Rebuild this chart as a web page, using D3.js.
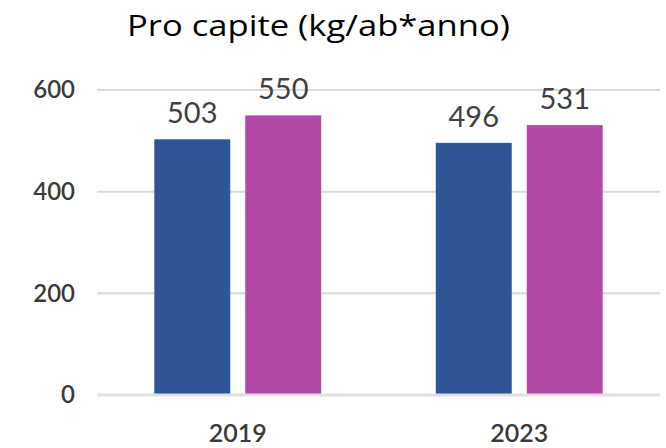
<!DOCTYPE html>
<html><head><meta charset="utf-8">
<script src="https://cdn.jsdelivr.net/npm/d3@7"></script>
<style>html,body{margin:0;padding:0;background:#fff;}</style>
</head><body>
<svg id="c" width="666" height="448"></svg>
<script>
const categories = ["2019", "2023"];
const seriesNames = ["A", "B"];
const seriesA = [503, 496];
const seriesB = [550, 531];
const yTicks = [0, 200, 400, 600];
const title = "Pro capite (kg/ab*anno)";
const colors = ["#2e5597", "#b24aa5"];

const svg = d3.select("#c");
const W = 666, H = 448;
const m = {left: 97, right: 6, top: 90, bottom: 53};
const x0 = d3.scaleBand().domain(categories).range([m.left, W - m.right])
  .paddingInner(0.407).paddingOuter(0.2035);
const x1 = d3.scaleBand().domain(seriesNames).range([0, x0.bandwidth()])
  .paddingInner(0.165).paddingOuter(0);
const y = d3.scaleLinear().domain([0, 600]).range([H - m.bottom, m.top]);

const font = "Lato, 'Liberation Sans', Arial, sans-serif";

// gridlines
svg.append("g").selectAll("line").data(yTicks.filter(d => d > 0)).join("line")
  .attr("x1", m.left).attr("x2", W - m.right)
  .attr("y1", d => y(d)).attr("y2", d => y(d))
  .attr("stroke", "#d9d9d9").attr("stroke-width", 2);

// y axis labels
const yAxis = d3.axisLeft(y).tickValues(yTicks).tickSize(0).tickPadding(22);
const ga = svg.append("g").attr("transform", `translate(${m.left},0)`).call(yAxis);
ga.select(".domain").remove();
ga.selectAll("text").attr("font-family", font).attr("font-size", 24)
  .attr("fill", "#3a3a3a").attr("font-weight", 600);

// bars
const rows = categories.map((c, i) => ({c, vals: [seriesA[i], seriesB[i]]}));
const g = svg.append("g").selectAll("g").data(rows).join("g")
  .attr("transform", d => `translate(${x0(d.c)},0)`);
g.selectAll("rect").data(d => d.vals.map((v, j) => ({v, s: seriesNames[j], j}))).join("rect")
  .attr("x", d => x1(d.s)).attr("width", x1.bandwidth())
  .attr("y", d => y(d.v)).attr("height", d => y(0) - y(d.v))
  .attr("fill", d => colors[d.j]);
g.selectAll("text").data(d => d.vals.map((v, j) => ({v, s: seriesNames[j]}))).join("text")
  .attr("x", d => x1(d.s) + x1.bandwidth() / 2).attr("y", d => y(d.v) - 16)
  .attr("text-anchor", "middle").attr("font-family", font).attr("font-size", 29)
  .attr("fill", "#404040").text(d => d.v);

// zero line
svg.append("line").attr("x1", m.left).attr("x2", W - m.right)
  .attr("y1", y(0)).attr("y2", y(0)).attr("stroke", "#e0e0e0").attr("stroke-width", 3);

// x axis labels
const xAxis = d3.axisBottom(x0).tickSize(0).tickPadding(0);
const gx = svg.append("g").attr("transform", `translate(0,${y(0)})`).call(xAxis);
gx.select(".domain").remove();
gx.selectAll("text").attr("font-family", font).attr("font-size", 25)
  .attr("fill", "#3a3a3a").attr("font-weight", 600).attr("dy", null).attr("y", 47);

// title
svg.append("text").attr("x", 127).attr("y", 36).attr("text-anchor", "start")
  .attr("font-family", "'Open Sans', Lato, sans-serif").attr("font-size", 30).attr("fill", "#000")
  .attr("textLength", 383).attr("lengthAdjust", "spacingAndGlyphs").text(title);
</script>
</body></html>
